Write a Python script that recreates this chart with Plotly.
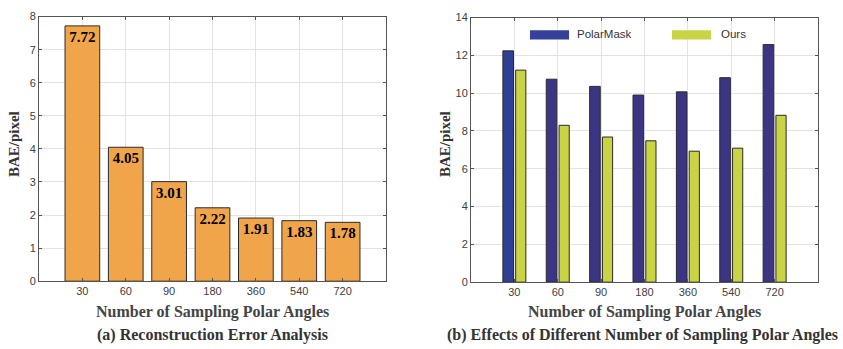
import plotly.graph_objects as go

angles = ["30", "60", "90", "180", "360", "540", "720"]
recon_error = [7.72, 4.05, 3.01, 2.22, 1.91, 1.83, 1.78]
polarmask_bae = [12.24, 10.74, 10.36, 9.90, 10.07, 10.82, 12.57]
ours_bae = [11.22, 8.30, 7.68, 7.48, 6.93, 7.09, 8.83]

xpos = list(range(len(angles)))

SERIF = "Liberation Serif"
SANS = "Liberation Sans"
EDGE = "#2b2b2b"
AX = "#555555"
TICKC = "#404040"
GRID = "#e3e3e3"

fig = go.Figure()

fig.add_trace(go.Bar(
    x=xpos, y=recon_error, width=0.8,
    marker=dict(color="#f0a54b", line=dict(color=EDGE, width=1)),
    texttemplate="<b>%{y:.2f}</b>", textposition="inside", insidetextanchor="end",
    textfont=dict(family=SERIF, size=15, color="black"),
    constraintext="none", cliponaxis=False,
    xaxis="x", yaxis="y", showlegend=False,
))

pm_colors = ["#303f96"] + ["#3c3584"] * (len(angles) - 1)
fig.add_trace(go.Bar(
    x=xpos, y=polarmask_bae, width=0.245, offset=-0.265,
    marker=dict(color=pm_colors, line=dict(color=EDGE, width=1)),
    name="PolarMask", xaxis="x2", yaxis="y2", showlegend=False,
))
fig.add_trace(go.Bar(
    x=xpos, y=ours_bae, width=0.235, offset=0.03,
    marker=dict(color="#c9d445", line=dict(color=EDGE, width=1)),
    name="Ours", xaxis="x2", yaxis="y2", showlegend=False,
))

common_x = dict(
    tickmode="array", tickvals=xpos, ticktext=angles, range=[-1, 7],
    showgrid=True, gridcolor=GRID, gridwidth=1,
    showline=True, linecolor=AX, linewidth=1, mirror="ticks",
    ticks="inside", ticklen=3, tickcolor=AX,
    tickfont=dict(family=SANS, size=11, color=TICKC), zeroline=False,
)
common_y = dict(
    showgrid=True, gridcolor=GRID, gridwidth=1,
    showline=True, linecolor=AX, linewidth=1, mirror="ticks",
    ticks="inside", ticklen=3, tickcolor=AX,
    tickfont=dict(family=SANS, size=11, color=TICKC), zeroline=False,
)

fig.update_layout(
    width=843, height=349,
    margin=dict(l=0, r=0, t=0, b=0),
    paper_bgcolor="white", plot_bgcolor="white",
    barmode="overlay",
    xaxis=dict(domain=[39/843, 386/843], anchor="y", **common_x),
    yaxis=dict(domain=[1-285/349, 1-11/349], anchor="x", range=[0, 8], dtick=1, **common_y),
    xaxis2=dict(domain=[471/843, 818/843], anchor="y2", **common_x),
    yaxis2=dict(domain=[1-286/349, 1-12/349], anchor="x2", range=[0, 14], dtick=2, **common_y),
)

# legend (panel b)
for (x0, x1, col, label, tx) in [(530, 569, "#34409a", "PolarMask", 575), (672, 711, "#c9d445", "Ours", 719)]:
    fig.add_shape(type="rect", xref="paper", yref="paper",
                  x0=x0/843, x1=x1/843, y0=1-34.7/349, y1=1-25/349,
                  fillcolor=col, line=dict(width=0))
    fig.add_annotation(xref="paper", yref="paper", x=tx/843, y=1-29.5/349,
                       text=label, showarrow=False, xanchor="left", yanchor="middle",
                       font=dict(family=SANS, size=11.5, color="#333333"))

def ann(x, y, text, size, color, angle=0):
    fig.add_annotation(xref="paper", yref="paper", x=x/843, y=1-y/349, text=text,
                       showarrow=False, xanchor="center", yanchor="middle", textangle=angle,
                       font=dict(family=SERIF, size=size, color=color))

ann(14, 143, "<b>BAE/pixel</b>", 15, "#333333", -90)
ann(445, 143, "<b>BAE/pixel</b>", 15, "#333333", -90)
ann(212, 317, "<b>Number of Sampling Polar Angles</b>", 16, "#444444")
ann(644, 317, "<b>Number of Sampling Polar Angles</b>", 16, "#444444")
ann(212, 341, "<b>(a) Reconstruction Error Analysis</b>", 16, "#333333")
ann(642, 341, "<b>(b) Effects of Different Number of Sampling Polar Angles</b>", 16, "#333333")

fig.write_html("out.html", config={"displayModeBar": False},
               post_script="document.body.style.margin='0';document.body.style.overflow='hidden';")
